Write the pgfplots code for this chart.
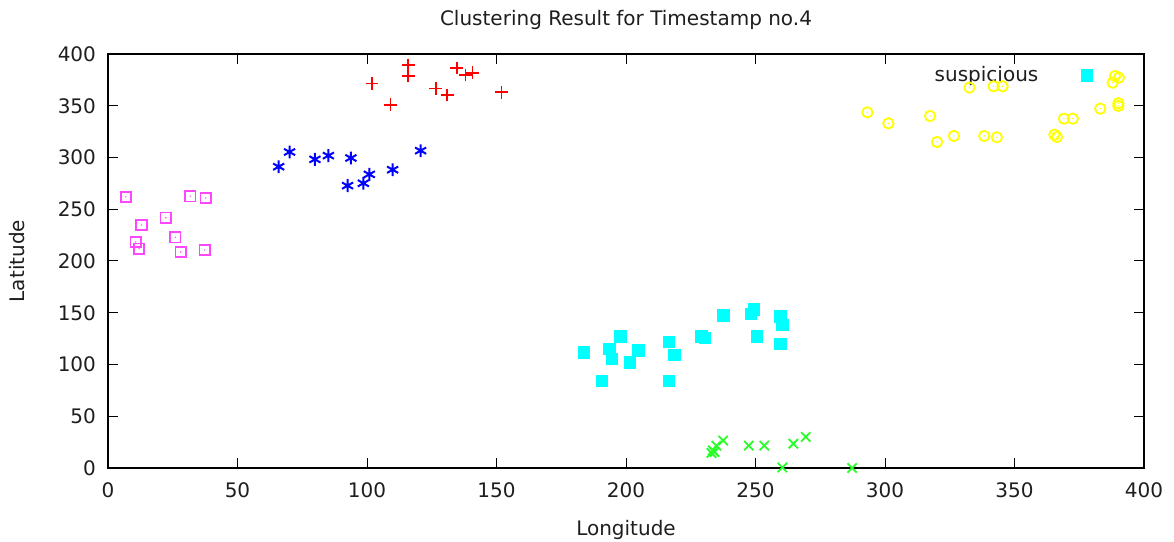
\documentclass[border=0pt]{standalone}
\usepackage{pgfplots}
\pgfplotsset{compat=1.18}
\usepackage{fontspec}
\setmainfont{DejaVu Sans}
\newcommand{\ff}{\fontsize{10}{12}\selectfont}
\definecolor{cmag}{RGB}{255,70,255}
\definecolor{cblue}{RGB}{0,0,255}
\definecolor{cred}{RGB}{255,0,0}
\definecolor{ccyan}{RGB}{0,255,255}
\definecolor{cgreen}{RGB}{40,255,40}
\definecolor{cyel}{RGB}{255,255,0}
\definecolor{txt}{RGB}{30,30,30}
\pgfdeclareplotmark{sqdot}{%
  \pgfpathrectangle{\pgfpoint{-\pgfplotmarksize}{-\pgfplotmarksize}}{\pgfpoint{2\pgfplotmarksize}{2\pgfplotmarksize}}%
  \pgfusepathqstroke
  \pgfpathcircle{\pgfpointorigin}{0.4pt}\pgfusepathqfill}
\pgfdeclareplotmark{odot}{%
  \pgfpathcircle{\pgfpointorigin}{\pgfplotmarksize}%
  \pgfusepathqstroke
  \pgfpathcircle{\pgfpointorigin}{0.4pt}\pgfusepathqfill}
\begin{document}
\begin{tikzpicture}
\begin{axis}[
  name=ax,
  scale only axis,
  width=518pt, height=207pt,
  xmin=0, xmax=400, ymin=0, ymax=400,
  xtick={0,50,...,400}, ytick={0,50,...,400},
  tick align=inside,
  major tick length=5pt,
  tick style={black, line width=0.5pt},
  axis line style={black, line width=0.9pt},
  clip=false,
  /pgf/number format/assume math mode=true,
  ticklabel style={font=\ff, text=txt},
  xticklabel style={yshift=-4pt},
  yticklabel style={xshift=-2.5pt},
  title={Clustering Result for Timestamp no.4},
  title style={font=\ff, text=txt, at={(axis description cs:0.5,1)}, anchor=base, yshift=8pt},
  xlabel={Longitude},
  xlabel style={font=\ff, text=txt, at={(axis description cs:0.5,0)}, anchor=base, yshift=-34pt},
  ylabel={Latitude},
  ylabel style={font=\ff, text=txt, at={(axis description cs:0,0.5)}, anchor=base, yshift=41.5pt},
  every axis plot/.append style={only marks, line width=0.8pt},
]
% magenta squares with dot
\addplot[color=cmag, mark=sqdot, mark size=2.6pt, line width=0.9pt] coordinates {
(6.9,262) (12.9,234.8) (22.3,241.8) (31.8,262.5) (37.7,260.9)
(10.7,218.4) (12.0,211.9) (26.0,222.9) (28.1,208.7) (37.3,210.6)
};
% blue asterisks
\addplot[color=cblue, mark=asterisk, mark size=3.2pt, line width=1pt] coordinates {
(65.9,291.1) (70.1,305.3) (79.9,298.2) (85.1,301.8) (93.8,299.5)
(92.5,272.8) (98.6,275.1) (100.9,283.7) (109.9,288.2) (120.7,306.6)
};
% red pluses
\addplot[color=cred, mark=+, mark size=3.2pt] coordinates {
(101.9,371.3) (115.9,389.4) (115.9,378.7) (109.0,351.0) (126.6,366.5)
(131.0,360.4) (134.7,386.5) (138.1,379.7) (140.7,381.9) (152.0,363.0)
};
% cyan filled squares
\addplot[color=ccyan, mark=square*, mark size=2.7pt] coordinates {
(183.8,111.4) (190.7,84.1) (193.6,114.7) (194.6,105.3) (197.8,126.9)
(201.5,101.8) (204.8,113.7) (216.7,122.0) (218.8,108.9) (216.7,84.1)
(229.1,126.9) (230.6,125.6) (237.7,147.2) (248.3,148.8) (249.5,153.3)
(250.6,126.9) (259.6,146.2) (260.4,137.9) (259.6,119.8)
(377.9,379.4)
};
% green crosses
\addplot[color=cgreen, mark=x, mark size=3.3pt, line width=0.9pt] coordinates {
(233.0,14.5) (233.5,17.0) (234.2,15.5) (234.9,21.5) (237.5,26.5)
(247.4,21.6) (253.4,21.6) (264.6,23.5) (269.4,30.0)
(260.4,0.5) (287.3,0)
};
% yellow circles with dot
\addplot[color=cyel, mark=odot, mark size=2.6pt, line width=0.9pt] coordinates {
(293.2,343.6) (301.3,333.0) (317.4,340.1) (320.1,315.0) (326.6,320.8)
(332.6,367.5) (338.3,320.8) (343.2,319.5) (341.9,368.8) (345.4,368.8)
(365.4,322.0) (366.4,319.8) (369.1,337.5) (372.5,337.5) (383.1,347.2)
(387.9,372.3) (388.8,378.7) (390.3,377.1) (390.1,352.4) (390.1,349.8)
};
\node[font=\ff, text=txt] at (axis cs:339.2,379) {suspicious};
\end{axis}
\pgfresetboundingbox
\path[use as bounding box] ([shift={(-54pt,-37pt)}]ax.south west) rectangle ([shift={(15pt,27pt)}]ax.north east);
\end{tikzpicture}
\end{document}
